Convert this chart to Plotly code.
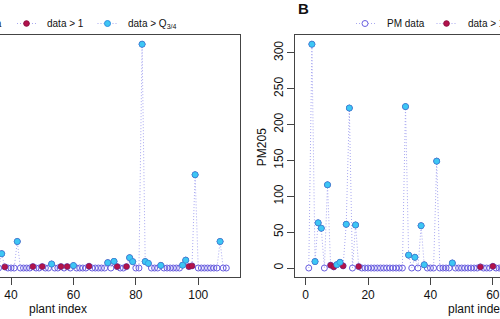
import plotly.graph_objects as go

# ---------------- data ----------------
# Panel A (left, partially visible): plant index and values
idx_a = list(range(36, 110))
vals_a = [0, 20, 1.6, 0, 0, 0, 37, 0, 0, 0, 0, 2.0, 0, 0, 2.0, 0, 0, 5.6, 0, 0,
          2.0, 0, 2.0, 0, 3.4, 0, 0, 0, 0, 2.5, 0, 0, 0, 0, 0, 7.5, 0, 9.3, 2.0, 0,
          0, 2.0, 14.4, 8.9, 0, 0, 312, 9.0, 6.5, 0, 0, 0, 3.7, 0, 0, 0, 0, 0, 0, 4.0,
          11.0, 2.0, 3.0, 130, 0, 0, 0, 0, 0, 0, 0, 37, 0, 0]
q34_a = 3.2

# Panel B (right, partially visible): PM205
idx_b = list(range(1, 65))
vals_b = [0, 312, 9, 63, 55.5, 0, 116, 4.0, 1.6, 4.7, 8, 3, 61, 223, 0, 60, 2, 0, 0, 0,
          0, 0, 0, 0, 0, 0, 0, 0, 0, 0, 0, 225, 18, 0, 15, 0, 59, 4.5, 0, 0,
          0, 149, 0, 0, 0, 0, 7, 0, 0, 0, 0, 0, 0, 0, 0, 1.6, 0, 0, 0, 2.4,
          0, 0, 0, 0]
q34_b = 4.3

x_ticks = [0, 20, 40, 60, 80, 100]
y_ticks = [0, 50, 100, 150, 200, 250, 300]
x_title = "plant index"
y_title_b = "PM205"
legend_labels = ["PM data", "data > 1", "data > Q<sub>3/4</sub>"]

# ---------------- styling ----------------
W, H = 500, 319
LINE_COL = "#A8A8F0"
DOT = "1px,2px"
OPEN_COL = "#6A5FE0"
RED_FILL = "#B3124C"
RED_EDGE = "#8E1040"
CYAN_FILL = "#3EC6F4"
CYAN_EDGE = "#2C8FE0"
FONT = "Liberation Sans, Arial, sans-serif"

# pixel geometry
px_per_unit_x = 3.12
xr_full = [-3.32, 113.32]
A_right_px = 239.8
B_left_px = 295.3
frame_top, frame_bot = 34.5, 277.0
y_range = [-12.5, 325.5]

a_x0 = xr_full[1] - A_right_px / px_per_unit_x
b_x1 = xr_full[0] + (W - B_left_px) / px_per_unit_x


def py(p):
    return 1 - p / H


def split(idx, vals, q):
    r = [(i, v) for i, v in zip(idx, vals) if v > 1]
    c = [(i, v) for i, v in zip(idx, vals) if v > q]
    return r, c


fig = go.Figure()
for (idx, vals, q, xa, ya) in [(idx_a, vals_a, q34_a, "x", "y"),
                               (idx_b, vals_b, q34_b, "x2", "y2")]:
    fig.add_trace(go.Scatter(x=idx, y=vals, mode="lines+markers", xaxis=xa, yaxis=ya,
                             line=dict(color=LINE_COL, width=1, dash=DOT),
                             marker=dict(symbol="circle-open", size=6,
                                         color=OPEN_COL, line=dict(width=1)),
                             showlegend=False))
    r, c = split(idx, vals, q)
    fig.add_trace(go.Scatter(x=[p[0] for p in r], y=[p[1] for p in r], mode="markers",
                             xaxis=xa, yaxis=ya,
                             marker=dict(size=5.5, color=RED_FILL,
                                         line=dict(color=RED_EDGE, width=0.6)),
                             showlegend=False))
    fig.add_trace(go.Scatter(x=[p[0] for p in c], y=[p[1] for p in c], mode="markers",
                             xaxis=xa, yaxis=ya,
                             marker=dict(size=6, color=CYAN_FILL,
                                         line=dict(color=CYAN_EDGE, width=0.7)),
                             showlegend=False))

ydom = [py(frame_bot), py(frame_top)]
axis_common = dict(showgrid=False, zeroline=False, linecolor="#444", linewidth=1,
                   tickfont=dict(family=FONT, size=12, color="#111"),
                   ticks="outside", ticklen=7, tickcolor="#444")

fig.update_layout(
    width=W, height=H, margin=dict(l=0, r=0, t=0, b=0),
    paper_bgcolor="white", plot_bgcolor="white", showlegend=False,
    xaxis=dict(domain=[0, A_right_px / W], range=[a_x0, xr_full[1]],
               tickvals=x_ticks, showline=True, mirror=True, anchor="y", **axis_common),
    yaxis=dict(domain=ydom, range=y_range, side="right", showline=True,
               showticklabels=False, ticks="", anchor="x",
               showgrid=False, zeroline=False, linecolor="#444", linewidth=1),
    xaxis2=dict(domain=[B_left_px / W, 1], range=[xr_full[0], b_x1],
                tickvals=x_ticks, showline=True, mirror=True, anchor="y2", **axis_common),
    yaxis2=dict(domain=ydom, range=y_range, tickvals=y_ticks, tickangle=-90,
                showline=True, anchor="x2", **axis_common),
)

ann = []


def add_text(xp, yp, text, size=12, xanchor="center", angle=0):
    ann.append(dict(x=xp / W, y=py(yp), text=text, xanchor=xanchor, yanchor="middle",
                    textangle=angle, showarrow=False, xref="paper", yref="paper",
                    font=dict(family=FONT, size=size, color="#111")))


# axis titles
a_left_px = A_right_px - (xr_full[1] - xr_full[0]) * px_per_unit_x
b_right_px = B_left_px + (xr_full[1] - xr_full[0]) * px_per_unit_x
add_text((a_left_px + A_right_px) / 2, 309, x_title)
add_text((B_left_px + b_right_px) / 2, 309, x_title)
add_text(261.7, 147.5, y_title_b, angle=-90)
add_text(295.5, 8.5, "<b>B</b>", size=15, xanchor="left")

shapes = []
LEG_Y = 23.5
LEG_SIZE = 10


def legend_item(x_line0, x_line1, x_mark, text_x, label, kind):
    shapes.append(dict(type="line", xref="paper", yref="paper",
                       x0=x_line0 / W, x1=x_line1 / W, y0=py(LEG_Y), y1=py(LEG_Y),
                       line=dict(color=LINE_COL, width=1, dash=DOT)))
    if kind == "open":
        fill, edge, r = "white", OPEN_COL, 3.0
    elif kind == "red":
        fill, edge, r = RED_FILL, RED_EDGE, 2.8
    else:
        fill, edge, r = CYAN_FILL, CYAN_EDGE, 3.0
    shapes.append(dict(type="circle", xref="paper", yref="paper",
                       xsizemode="pixel", ysizemode="pixel",
                       xanchor=x_mark / W, yanchor=py(LEG_Y),
                       x0=-r, x1=r, y0=-r, y1=r, fillcolor=fill,
                       line=dict(color=edge, width=1)))
    add_text(text_x, LEG_Y, label, size=LEG_SIZE, xanchor="left")


# left legend (partially off-canvas)
add_text(3.6, LEG_Y, legend_labels[0], size=LEG_SIZE, xanchor="right")
legend_item(17, 36, 26.5, 45, legend_labels[1], "red")
legend_item(97.5, 118, 107.5, 126, legend_labels[2], "cyan")
# right legend
legend_item(356, 375, 365, 384.5, legend_labels[0], "open")
legend_item(436.5, 456.5, 446.5, 465.5, legend_labels[1], "red")

fig.update_layout(annotations=ann, shapes=shapes)
fig.write_html("out.html", config={"displayModeBar": False},
               post_script="document.body.style.margin='0';document.body.style.overflow='hidden';")
